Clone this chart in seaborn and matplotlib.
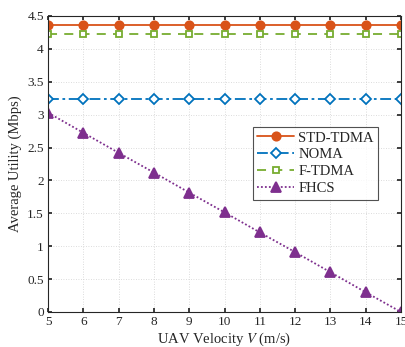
import numpy as np
import pandas as pd
import matplotlib
matplotlib.use("Agg")
import matplotlib.pyplot as plt
import seaborn as sns

velocity = [5, 6, 7, 8, 9, 10, 11, 12, 13, 14, 15]
std_tdma = [4.365] * 11
noma = [3.235] * 11
f_tdma = [4.22] * 11
fhcs = [3.03, 2.725, 2.42, 2.12, 1.815, 1.515, 1.21, 0.91, 0.605, 0.30, 0.0]

sns.set_theme(style="white")
plt.rcParams['font.family'] = ['Liberation Serif', 'DejaVu Serif']
plt.rcParams['mathtext.fontset'] = 'stix'

fig = plt.figure(figsize=(4.05, 3.47), dpi=100)
ax = fig.add_axes([48/405, 1 - 312/347, (401-48)/405, (312-16)/347])

series = [
    ("STD-TDMA", std_tdma, "#D95319", "-", "o", 6.0, "#D95319"),
    ("NOMA", noma, "#0072BD", (0, (6, 2, 1.5, 2)), "D", 5.0, "white"),
    ("F-TDMA", f_tdma, "#77AC30", (0, (5, 4)), "s", 5.0, "white"),
    ("FHCS", fhcs, "#7E2F8E", (0, (1, 1.2)), "^", 6.5, "#7E2F8E"),
]
for name, vals, col, ls, mk, ms, fc in series:
    df = pd.DataFrame({"V": velocity, "U": vals})
    sns.lineplot(data=df, x="V", y="U", ax=ax, color=col, linestyle=ls, marker=mk,
                 markersize=ms, markeredgecolor=col, markeredgewidth=1.3,
                 markerfacecolor=fc, linewidth=1.3, label=name)

ax.set_xlim(5, 15)
ax.set_ylim(0, 4.5)
ax.set_xticks(range(5, 16))
ax.set_yticks(np.arange(0, 4.51, 0.5))
ax.set_yticklabels(["0", "0.5", "1", "1.5", "2", "2.5", "3", "3.5", "4", "4.5"])
ax.grid(True, linestyle=(0, (1, 2)), color="#d0d0d0", linewidth=0.6)
ax.tick_params(direction="in", length=3, labelsize=9.5, colors="#262626", top=True, right=True,
               bottom=True, left=True, pad=3)
for s in ax.spines.values():
    s.set_color("#262626")
    s.set_linewidth(0.8)
ax.set_xlabel("UAV Velocity $V$ (m/s)", fontsize=10.5, color="#262626", labelpad=2)
ax.set_ylabel("Average Utility (Mbps)", fontsize=10.5, color="#262626", labelpad=4)

leg = ax.legend(loc="upper left", bbox_to_anchor=((253-48)/353, 1 - (127-16)/296),
                fontsize=10.5, frameon=True, fancybox=False, edgecolor="#262626",
                borderpad=0.3, labelspacing=0.25, handlelength=2.5, handletextpad=0.3,
                borderaxespad=0)
leg.get_frame().set_linewidth(0.8)

fig.savefig("out.png", dpi=100)
